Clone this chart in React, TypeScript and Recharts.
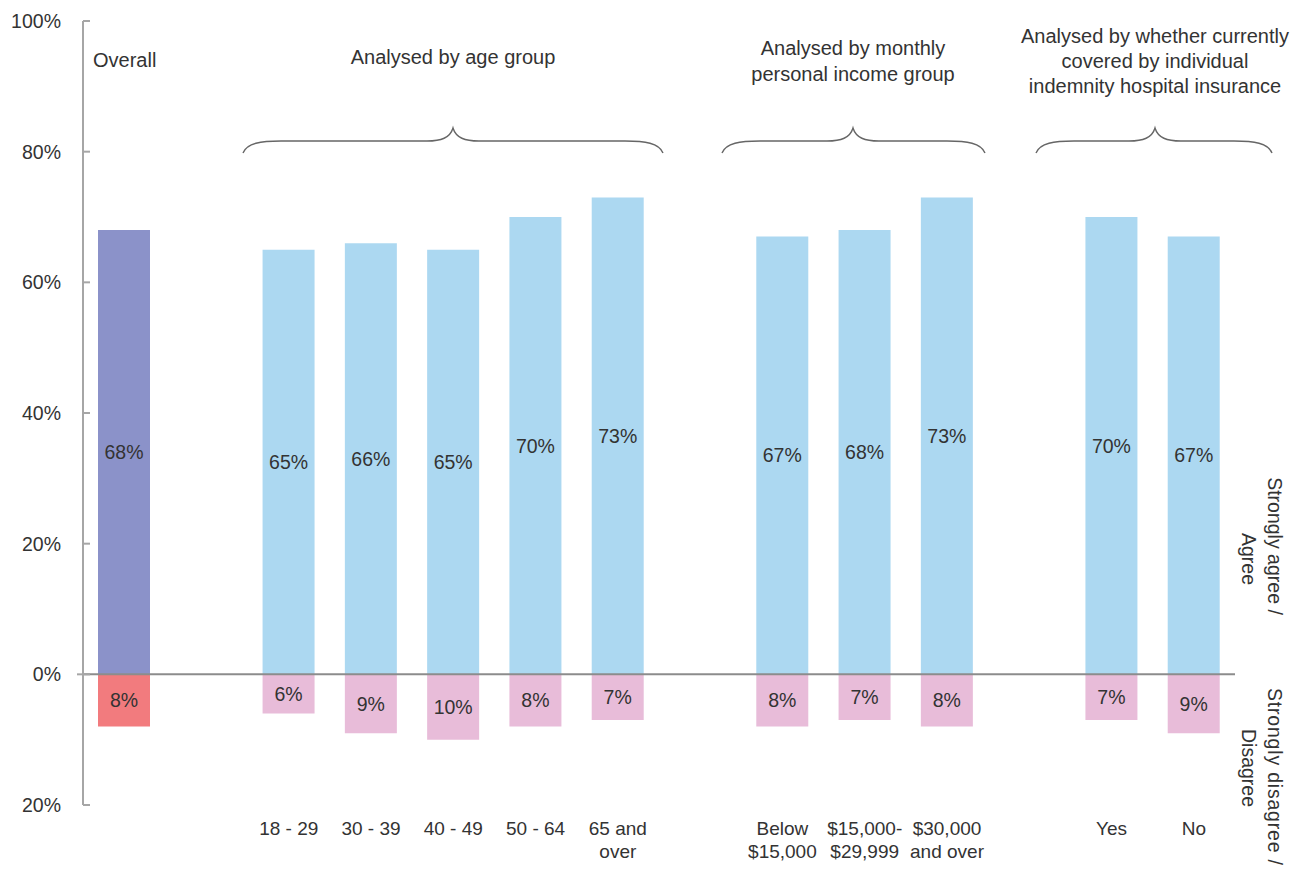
import { Bar, BarChart, Cell, LabelList, ReferenceLine, XAxis, YAxis } from 'recharts'

const categories = [
  'Overall',
  'gap1',
  '18 - 29',
  '30 - 39',
  '40 - 49',
  '50 - 64',
  '65 and over',
  'gap2',
  'Below $15,000',
  '$15,000-$29,999',
  '$30,000 and over',
  'gap3',
  'Yes',
  'No',
]
// tick labels under the bars (Overall has none in the original)
const tickLabels = [
  '',
  '',
  '18 - 29',
  '30 - 39',
  '40 - 49',
  '50 - 64',
  '65 and\nover',
  '',
  'Below\n$15,000',
  '$15,000-\n$29,999',
  '$30,000\nand over',
  '',
  'Yes',
  'No',
]
const agreeValues = [68, null, 65, 66, 65, 70, 73, null, 67, 68, 73, null, 70, 67]
const disagreeValues = [8, null, 6, 9, 10, 8, 7, null, 8, 7, 8, null, 7, 9]
const yTicks = [-20, 0, 20, 40, 60, 80, 100]

const FONT = '"Liberation Sans", Arial, sans-serif'
const TEXT = '#333'

const data = categories.map((name, i) => ({
  name,
  agree: agreeValues[i],
  disagree: disagreeValues[i] == null ? null : -(disagreeValues[i] as number),
}))

const pct = (v: any) => (v == null ? '' : `${Math.abs(Number(v))}%`)

function YTick(props: any) {
  const { x, y, payload } = props
  return (
    <g>
      <line x1={payload.value === 0 ? x - 6 : x} x2={x + 7} y1={y} y2={y} stroke="#a6a6a6" strokeWidth={2} />
      <text x={x - 22} y={y + 7} textAnchor="end" fontSize={19.5} fontFamily={FONT} fill={TEXT}>
        {Math.abs(payload.value)}%
      </text>
    </g>
  )
}

function XTick(props: any) {
  const { x, y, index } = props
  const lines = tickLabels[index].split('\n')
  return (
    <text x={x} y={y + 30} textAnchor="middle" fontSize={19} fontFamily={FONT} fill={TEXT}>
      {lines.map((l, i) => (
        <tspan key={i} x={x} dy={i === 0 ? 0 : 23}>
          {l}
        </tspan>
      ))}
    </text>
  )
}

function brace(x1: number, x2: number, cx: number) {
  const yEnd = 153
  const yTop = 141
  const yPeak = 128
  return `M ${x1} ${yEnd} C ${x1 + 4} ${yTop + 2} ${x1 + 18} ${yTop} ${x1 + 38} ${yTop}
    L ${cx - 26} ${yTop} C ${cx - 12} ${yTop} ${cx - 3} ${yTop - 3} ${cx} ${yPeak}
    C ${cx + 3} ${yTop - 3} ${cx + 12} ${yTop} ${cx + 26} ${yTop}
    L ${x2 - 38} ${yTop} C ${x2 - 18} ${yTop} ${x2 - 4} ${yTop + 2} ${x2} ${yEnd}`
}

function Overlay() {
  const t = { fontSize: 20, fontFamily: FONT, fill: TEXT }
  return (
    <svg width={1304} height={872} style={{ position: 'absolute', left: 0, top: 0, pointerEvents: 'none' }}>
      <text x={93} y={67} {...t}>Overall</text>
      <text x={453} y={64} textAnchor="middle" {...t}>Analysed by age group</text>
      <text x={853} y={55} textAnchor="middle" {...t}>Analysed by monthly</text>
      <text x={853} y={81} textAnchor="middle" {...t}>personal income group</text>
      <text x={1155} y={43} textAnchor="middle" {...t}>Analysed by whether currently</text>
      <text x={1155} y={68} textAnchor="middle" {...t}>covered by individual</text>
      <text x={1155} y={93} textAnchor="middle" {...t}>indemnity hospital insurance</text>

      <g fill="none" stroke="#666" strokeWidth={1.4}>
        <path d={brace(243, 663, 453)} />
        <path d={brace(722, 985, 853)} />
        <path d={brace(1036, 1272, 1155)} />
      </g>

      <g fontSize={19.5} fontFamily={FONT} fill={TEXT}>
        <text transform="translate(1268, 546) rotate(90)" textAnchor="middle">Strongly agree /</text>
        <text transform="translate(1242, 559) rotate(90)" textAnchor="middle">Agree</text>
        <text transform="translate(1268, 688) rotate(90)" textAnchor="start" letterSpacing={0.8}>Strongly disagree /</text>
        <text transform="translate(1242, 768) rotate(90)" textAnchor="middle">Disagree</text>
      </g>
    </svg>
  )
}

export default function App() {
  return (
    <div style={{ position: 'absolute', left: 0, top: 0, width: 1304, height: 872, background: '#fff' }}>
      <BarChart
        width={1304}
        height={872}
        data={data}
        stackOffset="sign"
        margin={{ top: 21, right: 69, bottom: 0, left: 0 }}
      >
        <XAxis
          dataKey="name"
          height={67}
          axisLine={false}
          tickLine={false}
          tickSize={0}
          tickMargin={0}
          interval={0}
          tick={<XTick />}
        />
        <YAxis
          width={83}
          domain={[-20, 100]}
          ticks={yTicks}
          interval={0}
          axisLine={{ stroke: '#a6a6a6', strokeWidth: 2 }}
          tickLine={false}
          tickSize={0}
          tickMargin={0}
          tick={<YTick />}
        />
        <Bar dataKey="agree" stackId="s" barSize={52} isAnimationActive={false}>
          {data.map((d, i) => (
            <Cell key={d.name} fill={i === 0 ? '#8b92c9' : '#acd8f1'} />
          ))}
          <LabelList dataKey="agree" position="center" formatter={pct} fill={TEXT} fontSize={19.5} fontFamily={FONT} />
        </Bar>
        <Bar dataKey="disagree" stackId="s" barSize={52} isAnimationActive={false}>
          {data.map((d, i) => (
            <Cell key={d.name} fill={i === 0 ? '#f27b7e' : '#e8bcd9'} />
          ))}
          <LabelList dataKey="disagree" position="center" formatter={pct} fill={TEXT} fontSize={19.5} fontFamily={FONT} />
        </Bar>
        <ReferenceLine y={0} stroke="#8c8c8c" strokeWidth={2} />
      </BarChart>
      <Overlay />
    </div>
  )
}
